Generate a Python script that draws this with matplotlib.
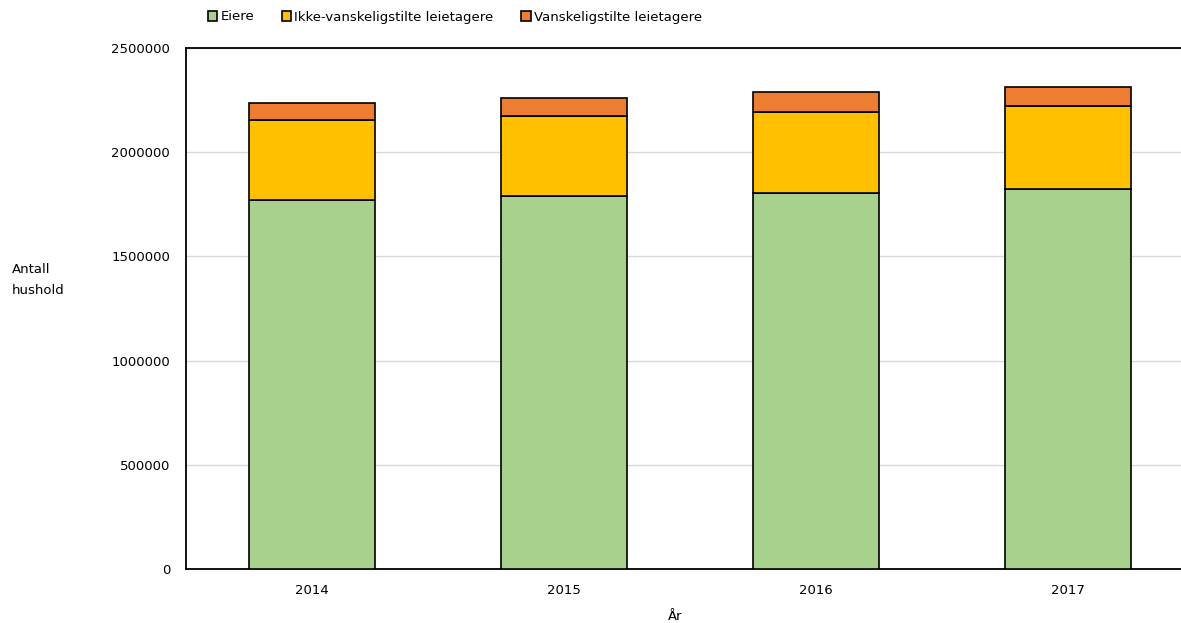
import matplotlib.pyplot as plt
import numpy as np

years = ["2014", "2015", "2016", "2017"]
eiere = [1771600, 1790800, 1803700, 1824300]
ikke_vansk = [384500, 384500, 390700, 397400]
vansk = [78500, 84700, 92900, 91000]

labels = ["Eiere", "Ikke-vanskeligstilte leietagere", "Vanskeligstilte leietagere"]
colors = ["#A9D18E", "#FFC000", "#ED7D31"]

plt.rcParams['font.family'] = ['DejaVu Sans']
fs = 9.5

fig = plt.figure(figsize=(11.81, 6.23), dpi=100)
# axes run past the right edge like in the reference
ax = fig.add_axes([186 / 1181, 54 / 623, 1008 / 1181, 521 / 623])

x = np.arange(len(years))
width = 0.5
b1 = np.array(eiere)
b2 = b1 + np.array(ikke_vansk)
ax.bar(x, eiere, width=width, color=colors[0], edgecolor="black", linewidth=1.2, label=labels[0], zorder=3)
ax.bar(x, ikke_vansk, width=width, bottom=b1, color=colors[1], edgecolor="black", linewidth=1.2, label=labels[1], zorder=3)
ax.bar(x, vansk, width=width, bottom=b2, color=colors[2], edgecolor="black", linewidth=1.2, label=labels[2], zorder=3)

ax.set_xlim(-0.5, len(years) - 0.5)
ax.set_ylim(0, 2500000)
ax.set_yticks(np.arange(0, 2500001, 500000))
ax.set_yticklabels([str(v) for v in range(0, 2500001, 500000)])
ax.set_xticks(x)
ax.set_xticklabels(years)
ax.tick_params(axis="both", length=0, labelsize=fs)
ax.tick_params(axis="y", pad=11.5)
ax.tick_params(axis="x", pad=11)
ax.yaxis.grid(True, color="#D9D9D9", linewidth=1, zorder=0)
for s in ["left", "top", "bottom"]:
    ax.spines[s].set_color("black")
    ax.spines[s].set_linewidth(1.3)
ax.spines["right"].set_visible(False)

fig.text(12 / 1181, 1 - 280 / 623, "Antall\nhushold", ha="left", va="center", fontsize=fs, linespacing=1.8)
fig.text(675 / 1181, 1 - 617 / 623, "År", ha="center", va="center", fontsize=fs)

fig.legend(loc="center", bbox_to_anchor=(455 / 1181, 1 - 17 / 623), ncol=3, frameon=False,
           fontsize=fs, handlelength=0.7, handleheight=0.7, handletextpad=0.25, columnspacing=2.1)

fig.savefig("out.png", dpi=100)
